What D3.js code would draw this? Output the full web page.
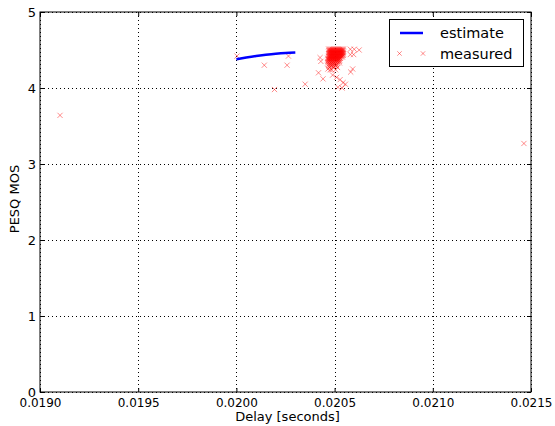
<!DOCTYPE html>
<html>
<head>
<meta charset="utf-8">
<script src="https://cdn.jsdelivr.net/npm/d3@7"></script>
<style>
  html, body { margin: 0; padding: 0; background: #fff; }
  text { font-family: "DejaVu Sans", sans-serif; }
</style>
</head>
<body>
<svg id="chart" width="555" height="426"></svg>
<script>
// Fitted PESQ estimate as a function of delay
const estimateDelay = [0.02000, 0.02005, 0.02010, 0.02015, 0.02020, 0.02025, 0.02030];
const estimateMos   = [4.377, 4.400, 4.420, 4.436, 4.450, 4.461, 4.468];

// Measured samples (delay in seconds, PESQ MOS)
const measuredDelay = [
  // isolated samples
  0.019102, 0.021464, 0.020003, 0.020142, 0.020258, 0.020265, 0.020194, 0.020350,
  // main cluster, MOS 4.51
  0.020470, 0.020475, 0.020480, 0.020485, 0.020490, 0.020495, 0.020500, 0.020505, 0.020510, 0.020515, 0.020520, 0.020525, 0.020530, 0.020535, 0.020540, 0.020545,
  // MOS 4.49
  0.020470, 0.020475, 0.020480, 0.020485, 0.020490, 0.020495, 0.020500, 0.020505, 0.020510, 0.020515, 0.020520, 0.020525, 0.020530, 0.020535, 0.020540, 0.020545,
  // MOS 4.47
  0.020470, 0.020475, 0.020480, 0.020485, 0.020490, 0.020495, 0.020500, 0.020505, 0.020510, 0.020515, 0.020520, 0.020525, 0.020530, 0.020535, 0.020540, 0.020545,
  // MOS 4.45
  0.020470, 0.020475, 0.020480, 0.020485, 0.020490, 0.020495, 0.020500, 0.020505, 0.020510, 0.020515, 0.020520, 0.020525, 0.020530, 0.020535, 0.020540, 0.020545,
  // MOS 4.43
  0.020470, 0.020475, 0.020480, 0.020485, 0.020490, 0.020495, 0.020500, 0.020505, 0.020510, 0.020515, 0.020520, 0.020525, 0.020530, 0.020535, 0.020540, 0.020545,
  // MOS 4.41
  0.020470, 0.020475, 0.020480, 0.020485, 0.020490, 0.020495, 0.020500, 0.020505, 0.020510, 0.020515, 0.020520, 0.020525, 0.020530, 0.020535, 0.020540,
  // MOS 4.39
  0.020465, 0.020470, 0.020475, 0.020480, 0.020485, 0.020490, 0.020495, 0.020500, 0.020505, 0.020510, 0.020515, 0.020520, 0.020525, 0.020530,
  // MOS 4.37
  0.020465, 0.020470, 0.020475, 0.020480, 0.020485, 0.020490, 0.020495, 0.020500, 0.020505, 0.020510, 0.020515, 0.020520, 0.020525,
  // MOS 4.35
  0.020465, 0.020475, 0.020485, 0.020495, 0.020505, 0.020515, 0.020525,
  // MOS 4.33
  0.020465, 0.020475, 0.020485, 0.020495, 0.020505, 0.020515, 0.020525,
  // MOS 4.31
  0.020470, 0.020480, 0.020490, 0.020500, 0.020510,
  // MOS 4.29
  0.020470, 0.020480, 0.020490, 0.020500, 0.020510,
  // MOS 4.27
  0.020475, 0.020495, 0.020515,
  // MOS 4.24
  0.020485, 0.020505,
  // scattered around the cluster
  0.020600, 0.020580, 0.020625, 0.020580, 0.020597,
  0.020426, 0.020430, 0.020418, 0.020441, 0.020477, 0.020490, 0.020466,
  0.020528, 0.020543, 0.020517, 0.020538, 0.020555, 0.020510,
  0.020582, 0.020592
];
const measuredMos = [
  3.64, 3.27, 4.42, 4.30, 4.30, 4.42, 3.98, 4.05,
  4.51, 4.51, 4.51, 4.51, 4.51, 4.51, 4.51, 4.51, 4.51, 4.51, 4.51, 4.51, 4.51, 4.51, 4.51, 4.51,
  4.49, 4.49, 4.49, 4.49, 4.49, 4.49, 4.49, 4.49, 4.49, 4.49, 4.49, 4.49, 4.49, 4.49, 4.49, 4.49,
  4.47, 4.47, 4.47, 4.47, 4.47, 4.47, 4.47, 4.47, 4.47, 4.47, 4.47, 4.47, 4.47, 4.47, 4.47, 4.47,
  4.45, 4.45, 4.45, 4.45, 4.45, 4.45, 4.45, 4.45, 4.45, 4.45, 4.45, 4.45, 4.45, 4.45, 4.45, 4.45,
  4.43, 4.43, 4.43, 4.43, 4.43, 4.43, 4.43, 4.43, 4.43, 4.43, 4.43, 4.43, 4.43, 4.43, 4.43, 4.43,
  4.41, 4.41, 4.41, 4.41, 4.41, 4.41, 4.41, 4.41, 4.41, 4.41, 4.41, 4.41, 4.41, 4.41, 4.41,
  4.39, 4.39, 4.39, 4.39, 4.39, 4.39, 4.39, 4.39, 4.39, 4.39, 4.39, 4.39, 4.39, 4.39,
  4.37, 4.37, 4.37, 4.37, 4.37, 4.37, 4.37, 4.37, 4.37, 4.37, 4.37, 4.37, 4.37,
  4.35, 4.35, 4.35, 4.35, 4.35, 4.35, 4.35,
  4.33, 4.33, 4.33, 4.33, 4.33, 4.33, 4.33,
  4.31, 4.31, 4.31, 4.31, 4.31,
  4.29, 4.29, 4.29, 4.29, 4.29,
  4.27, 4.27, 4.27,
  4.24, 4.24,
  4.51, 4.51, 4.50, 4.44, 4.44,
  4.40, 4.35, 4.20, 4.12, 4.24, 4.17, 4.25,
  4.11, 4.07, 4.01, 4.00, 4.05, 4.14,
  4.21, 4.25
];

const xTicks = [0.0190, 0.0195, 0.0200, 0.0205, 0.0210, 0.0215];
const yTicks = [0, 1, 2, 3, 4, 5];

const svg = d3.select("#chart");
const m = { left: 40, right: 531, top: 12, bottom: 392 };

const x = d3.scaleLinear().domain([0.0190, 0.0215]).range([m.left, m.right]);
const y = d3.scaleLinear().domain([0, 5]).range([m.bottom, m.top]);

// dotted grid
const grid = svg.append("g");
grid.selectAll("line.gx").data(xTicks).join("line")
  .attr("x1", d => Math.round(x(d)) + 0.5).attr("x2", d => Math.round(x(d)) + 0.5)
  .attr("y1", m.top).attr("y2", m.bottom)
  .attr("stroke", "#000").attr("stroke-width", 1).attr("stroke-dasharray", "1,3");
grid.selectAll("line.gy").data(yTicks).join("line")
  .attr("y1", d => Math.round(y(d)) + 0.5).attr("y2", d => Math.round(y(d)) + 0.5)
  .attr("x1", m.left).attr("x2", m.right)
  .attr("stroke", "#000").attr("stroke-width", 1).attr("stroke-dasharray", "1,3");

// measured points as 'x' markers
svg.append("clipPath").attr("id", "plotclip").append("rect")
  .attr("x", m.left).attr("y", m.top).attr("width", m.right - m.left).attr("height", m.bottom - m.top);
const pts = d3.range(measuredDelay.length).map(i => [measuredDelay[i], measuredMos[i]]);
const ms = 2.6;
const plot = svg.append("g").attr("clip-path", "url(#plotclip)");
plot.selectAll("path.pt").data(pts).join("path")
  .attr("d", d => {
    const px = x(d[0]), py = y(d[1]);
    return `M${px - ms},${py - ms}L${px + ms},${py + ms}M${px - ms},${py + ms}L${px + ms},${py - ms}`;
  })
  .attr("stroke", "#ff0000").attr("stroke-opacity", 0.45).attr("stroke-width", 1).attr("fill", "none");

// estimate curve
const line = d3.line().x(d => x(d[0])).y(d => y(d[1])).curve(d3.curveMonotoneX);
plot.append("path")
  .datum(estimateDelay.map((d, i) => [d, estimateMos[i]]))
  .attr("d", line).attr("fill", "none").attr("stroke", "#0000ff").attr("stroke-width", 2.5);

// axes (ticks inward on all sides)
const xAxis = d3.axisBottom(x).tickValues(xTicks).tickFormat(d3.format(".4f")).tickSizeInner(-4).tickSizeOuter(0).tickPadding(6);
const yAxis = d3.axisLeft(y).tickValues(yTicks).tickFormat(d3.format("d")).tickSizeInner(-4).tickSizeOuter(0).tickPadding(4);
const gx = svg.append("g").attr("transform", `translate(0,${m.bottom})`).call(xAxis);
const gy = svg.append("g").attr("transform", `translate(${m.left},0)`).call(yAxis);
const gxt = svg.append("g").attr("transform", `translate(0,${m.top})`).call(d3.axisTop(x).tickValues(xTicks).tickFormat("").tickSizeInner(-4).tickSizeOuter(0));
const gyr = svg.append("g").attr("transform", `translate(${m.right},0)`).call(d3.axisRight(y).tickValues(yTicks).tickFormat("").tickSizeInner(-4).tickSizeOuter(0));
[gx, gy, gxt, gyr].forEach(g => {
  g.select(".domain").remove();
  g.selectAll("line").attr("stroke", "#000");
  g.selectAll("text").attr("font-size", 12).attr("fill", "#000").attr("font-family", "DejaVu Sans");
});
gx.selectAll("text").attr("dy", "0.71em").attr("y", 6);
gy.selectAll("text").attr("font-size", 13);

// frame
svg.append("rect").attr("x", m.left).attr("y", m.top)
  .attr("width", m.right - m.left).attr("height", m.bottom - m.top)
  .attr("fill", "none").attr("stroke", "#000").attr("stroke-width", 1);

// axis labels
svg.append("text").attr("x", (m.left + m.right) / 2 + 2).attr("y", 421)
  .attr("text-anchor", "middle").attr("font-size", 13).text("Delay [seconds]");
svg.append("text").attr("transform", `translate(19,199) rotate(-90)`)
  .attr("text-anchor", "middle").attr("font-size", 13).text("PESQ MOS");

// legend
const lg = svg.append("g");
lg.append("rect").attr("x", 389.5).attr("y", 19.5).attr("width", 134).attr("height", 47)
  .attr("fill", "#fff").attr("stroke", "#000").attr("stroke-width", 1);
lg.append("line").attr("x1", 400).attr("x2", 423).attr("y1", 33).attr("y2", 33)
  .attr("stroke", "#0000ff").attr("stroke-width", 2.5);
[399.5, 423].forEach(cx => {
  const cy = 53.5, s = 2.2;
  lg.append("path").attr("d", `M${cx - s},${cy - s}L${cx + s},${cy + s}M${cx - s},${cy + s}L${cx + s},${cy - s}`)
    .attr("stroke", "#ff0000").attr("stroke-opacity", 0.45).attr("stroke-width", 1).attr("fill", "none");
});
lg.append("text").attr("x", 440).attr("y", 38).attr("font-size", 14.5).text("estimate");
lg.append("text").attr("x", 440).attr("y", 59).attr("font-size", 14.5).text("measured");
</script>
</body>
</html>
